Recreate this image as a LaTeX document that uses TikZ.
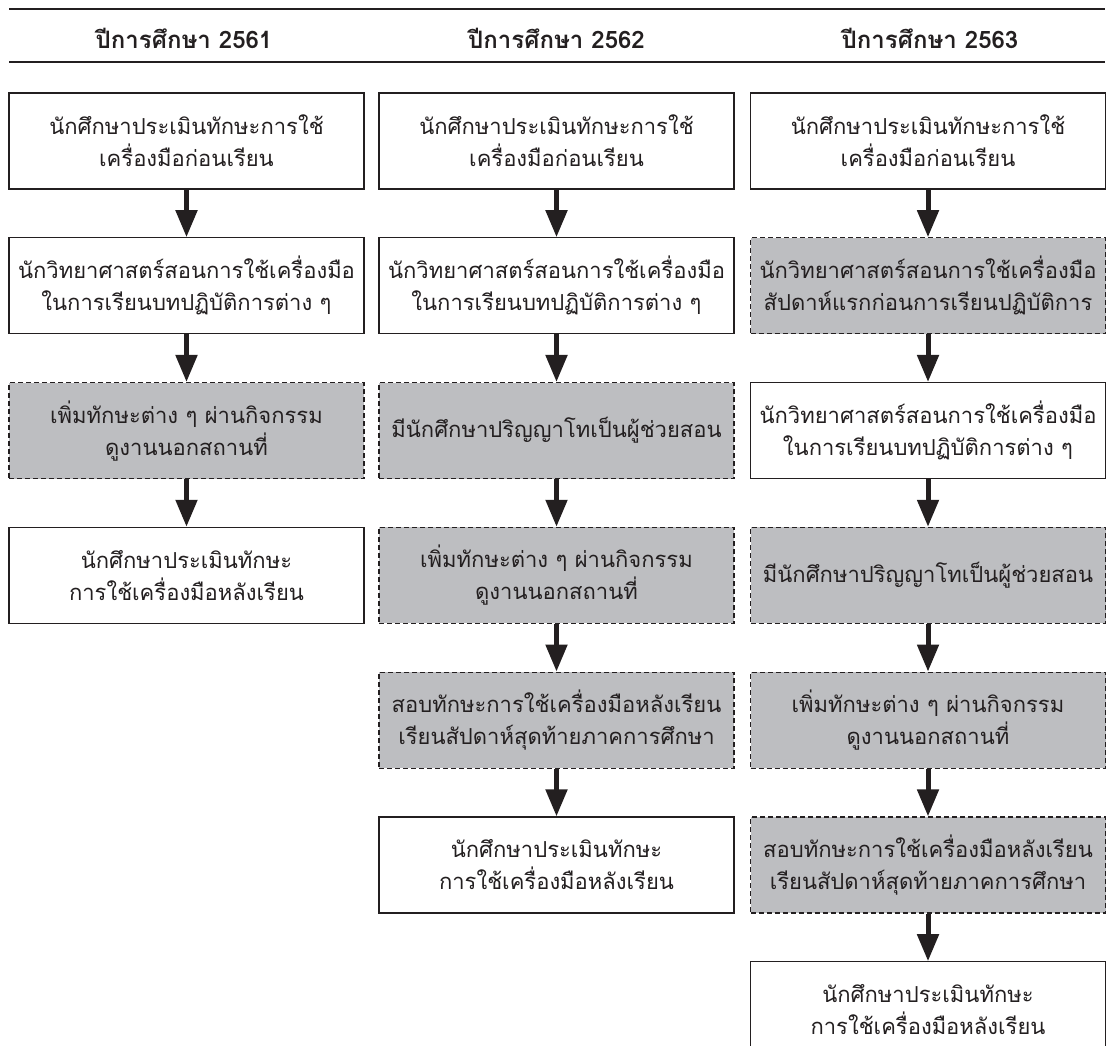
\documentclass[tikz,border=0pt]{standalone}
\usepackage{fontspec}
\newfontfamily\thai[Script=Thai]{Loma}
\usetikzlibrary{arrows.meta}
\usetikzlibrary{positioning}
\definecolor{boxgray}{RGB}{189,190,193}
\definecolor{ink}{RGB}{35,31,32}
\tikzset{
  box/.style = {draw = ink, line width = 1.3pt, minimum width = 355pt,
    minimum height = 96pt, inner sep = 0pt, align = center, text = ink,
    font = \thai\fontsize{22}{32}\selectfont},
  extra/.style = {box, fill = boxgray, dash pattern = on 5pt off 3pt},
  head/.style = {anchor = base, text = ink, font = \thai\bfseries\fontsize{24}{28}\selectfont},
  rule/.style = {draw = ink, line width = 1.4pt},
  flow/.style = {draw = ink, line width = 5pt, -{Triangle[width = 21pt, length = 27pt]}},
  node distance = 47.5pt
}

\begin{document}
\begin{tikzpicture}[x = 1pt, y = -1pt]
  \clip (0,0) rectangle (1107,1045);
  % header
  \draw [rule] (9,9) -- (1105,9);
  \draw [rule] (9,62) -- (1105,62);
  \node (h1) [head] at (184,48) {ปีการศึกษา 2561};
  \node (h2) [head] at (556.5,48) {ปีการศึกษา 2562};
  \node (h3) [head] at (930,48) {ปีการศึกษา 2563};
  % nodes, 2561
  \node (a1) [box] at (186.5,141) {นักศึกษาประเมินทักษะการใช้\\เครื่องมือก่อนเรียน};
  \node (a2) [box, below = of a1] {นักวิทยาศาสตร์สอนการใช้เครื่องมือ\\ในการเรียนบทปฏิบัติการต่าง ๆ};
  \node (a3) [extra, below = of a2] {เพิ่มทักษะต่าง ๆ ผ่านกิจกรรม\\ดูงานนอกสถานที่};
  \node (a4) [box, below = of a3] {นักศึกษาประเมินทักษะ\\การใช้เครื่องมือหลังเรียน};
  % nodes, 2562
  \node (b1) [box] at (556.5,141) {นักศึกษาประเมินทักษะการใช้\\เครื่องมือก่อนเรียน};
  \node (b2) [box, below = of b1] {นักวิทยาศาสตร์สอนการใช้เครื่องมือ\\ในการเรียนบทปฏิบัติการต่าง ๆ};
  \node (b3) [extra, below = of b2] {มีนักศึกษาปริญญาโทเป็นผู้ช่วยสอน};
  \node (b4) [extra, below = of b3] {เพิ่มทักษะต่าง ๆ ผ่านกิจกรรม\\ดูงานนอกสถานที่};
  \node (b5) [extra, below = of b4] {สอบทักษะการใช้เครื่องมือหลังเรียน\\เรียนสัปดาห์สุดท้ายภาคการศึกษา};
  \node (b6) [box, below = of b5] {นักศึกษาประเมินทักษะ\\การใช้เครื่องมือหลังเรียน};
  % nodes, 2563
  \node (c1) [box] at (928,141) {นักศึกษาประเมินทักษะการใช้\\เครื่องมือก่อนเรียน};
  \node (c2) [extra, below = of c1] {นักวิทยาศาสตร์สอนการใช้เครื่องมือ\\สัปดาห์แรกก่อนการเรียนปฏิบัติการ};
  \node (c3) [box, below = of c2] {นักวิทยาศาสตร์สอนการใช้เครื่องมือ\\ในการเรียนบทปฏิบัติการต่าง ๆ};
  \node (c4) [extra, below = of c3] {มีนักศึกษาปริญญาโทเป็นผู้ช่วยสอน};
  \node (c5) [extra, below = of c4] {เพิ่มทักษะต่าง ๆ ผ่านกิจกรรม\\ดูงานนอกสถานที่};
  \node (c6) [extra, below = of c5] {สอบทักษะการใช้เครื่องมือหลังเรียน\\เรียนสัปดาห์สุดท้ายภาคการศึกษา};
  \node (c7) [box, below = of c6] {นักศึกษาประเมินทักษะ\\การใช้เครื่องมือหลังเรียน};
  % edges
  \foreach \i/\j in {1/2, 2/3, 3/4} \draw (a\i) edge [flow] (a\j);
  \foreach \i/\j in {1/2, 2/3, 3/4, 4/5, 5/6} \draw (b\i) edge [flow] (b\j);
  \foreach \i/\j in {1/2, 2/3, 3/4, 4/5, 5/6, 6/7} \draw (c\i) edge [flow] (c\j);
\end{tikzpicture}
\end{document}
